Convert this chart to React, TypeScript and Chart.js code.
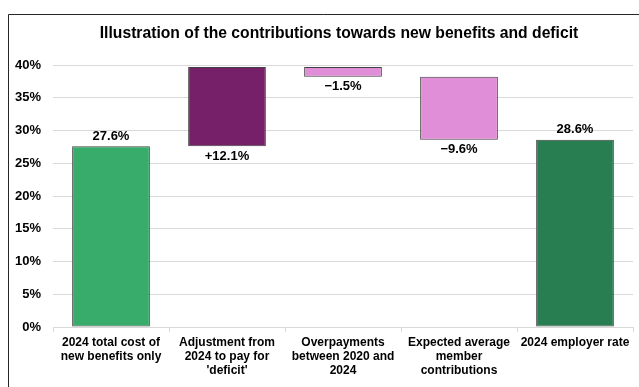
import React, { useEffect, useRef } from "react";
import { Chart, registerables } from "chart.js";

Chart.register(...registerables);

const categories: string[][] = [
  ["2024 total cost of", "new benefits only"],
  ["Adjustment from", "2024 to pay for", "'deficit'"],
  ["Overpayments", "between 2020 and", "2024"],
  ["Expected average", "member", "contributions"],
  ["2024 employer rate"],
];
const startValues = [0, 27.6, 39.7, 38.2, 0];
const endValues = [27.6, 39.7, 38.2, 28.6, 28.6];
const valueLabels = ["27.6%", "+12.1%", "\u22121.5%", "\u22129.6%", "28.6%"];
const barColors = ["#38ad6b", "#77206a", "#e18ed8", "#e18ed8", "#287e50"];
const yTicks = [0, 5, 10, 15, 20, 25, 30, 35, 40];
const titleText = "Illustration of the contributions towards new benefits and deficit";

const FONT = "'Liberation Sans', Arial, sans-serif";

export default function App() {
  const ref = useRef<HTMLCanvasElement | null>(null);
  useEffect(() => {
    if (!ref.current) return;
    const framePlugin = {
      id: "frame",
      beforeDraw(chart: any) {
        const ctx = chart.ctx;
        ctx.save();
        ctx.fillStyle = "#ffffff";
        ctx.fillRect(0, 0, chart.width, chart.height);
        ctx.strokeStyle = "#262626";
        ctx.lineWidth = 1;
        ctx.beginPath();
        ctx.moveTo(8.5, chart.height);
        ctx.lineTo(8.5, 14.5);
        ctx.lineTo(chart.width, 14.5);
        ctx.stroke();
        ctx.restore();
      },
      afterDraw(chart: any) {
        const ctx = chart.ctx;
        ctx.save();
        ctx.fillStyle = "#000000";
        ctx.font = `bold 15.7px ${FONT}`;
        ctx.textAlign = "center";
        ctx.textBaseline = "middle";
        ctx.fillText(titleText, 339, 34);
        ctx.font = `bold 13px ${FONT}`;
        const meta = chart.getDatasetMeta(0);
        const y = chart.scales.y;
        meta.data.forEach((bar: any, i: number) => {
          const s = startValues[i];
          const e = endValues[i];
          let py: number;
          if (s === 0) {
            py = y.getPixelForValue(Math.max(s, e)) - 10;
          } else {
            py = y.getPixelForValue(Math.min(s, e)) + 10;
          }
          ctx.fillText(valueLabels[i], bar.x, py);
        });
        ctx.restore();
      },
    };
    const chart = new Chart(ref.current, {
      type: "bar",
      data: {
        labels: categories as any,
        datasets: [
          {
            data: startValues.map((s, i) => [s, endValues[i]]) as any,
            backgroundColor: barColors,
            borderColor: "#404040",
            borderWidth: 1,
            borderSkipped: false,
            categoryPercentage: 1,
            barPercentage: 0.67,
          },
        ],
      },
      options: {
        animation: false,
        responsive: false,
        maintainAspectRatio: false,
        layout: { padding: { top: 65, right: 6, left: 0, bottom: 0 } },
        plugins: {
          legend: { display: false },
          title: { display: false },
          tooltip: { enabled: false },
        },
        scales: {
          x: {
            afterFit(scale: any) {
              scale.height = 60;
            },
            grid: {
              display: true,
              drawOnChartArea: false,
              drawTicks: true,
              tickLength: 5,
              color: "#d9d9d9",
              offset: true,
            },
            border: { display: true, color: "#d9d9d9" },
            ticks: {
              color: "#000000",
              font: { family: FONT, size: 12, weight: "bold", lineHeight: 1.15 },
              padding: 4,
              maxRotation: 0,
              autoSkip: false,
            },
          },
          y: {
            min: 0,
            max: 40,
            afterFit(scale: any) {
              scale.width = 53;
            },
            afterBuildTicks(scale: any) {
              scale.ticks = yTicks.map((v) => ({ value: v }));
            },
            grid: { color: "#d9d9d9", drawTicks: false },
            border: { display: false },
            ticks: {
              color: "#000000",
              font: { family: FONT, size: 13, weight: "bold" },
              padding: 12,
              callback: (v: any) => `${v}%`,
            },
          },
        },
      },
      plugins: [framePlugin],
    });
    return () => chart.destroy();
  }, []);
  return (
    <div style={{ position: "fixed", left: 0, top: 0, width: 639, height: 387 }}>
      <canvas ref={ref} width={639} height={387} style={{ width: 639, height: 387, display: "block" }} />
    </div>
  );
}
